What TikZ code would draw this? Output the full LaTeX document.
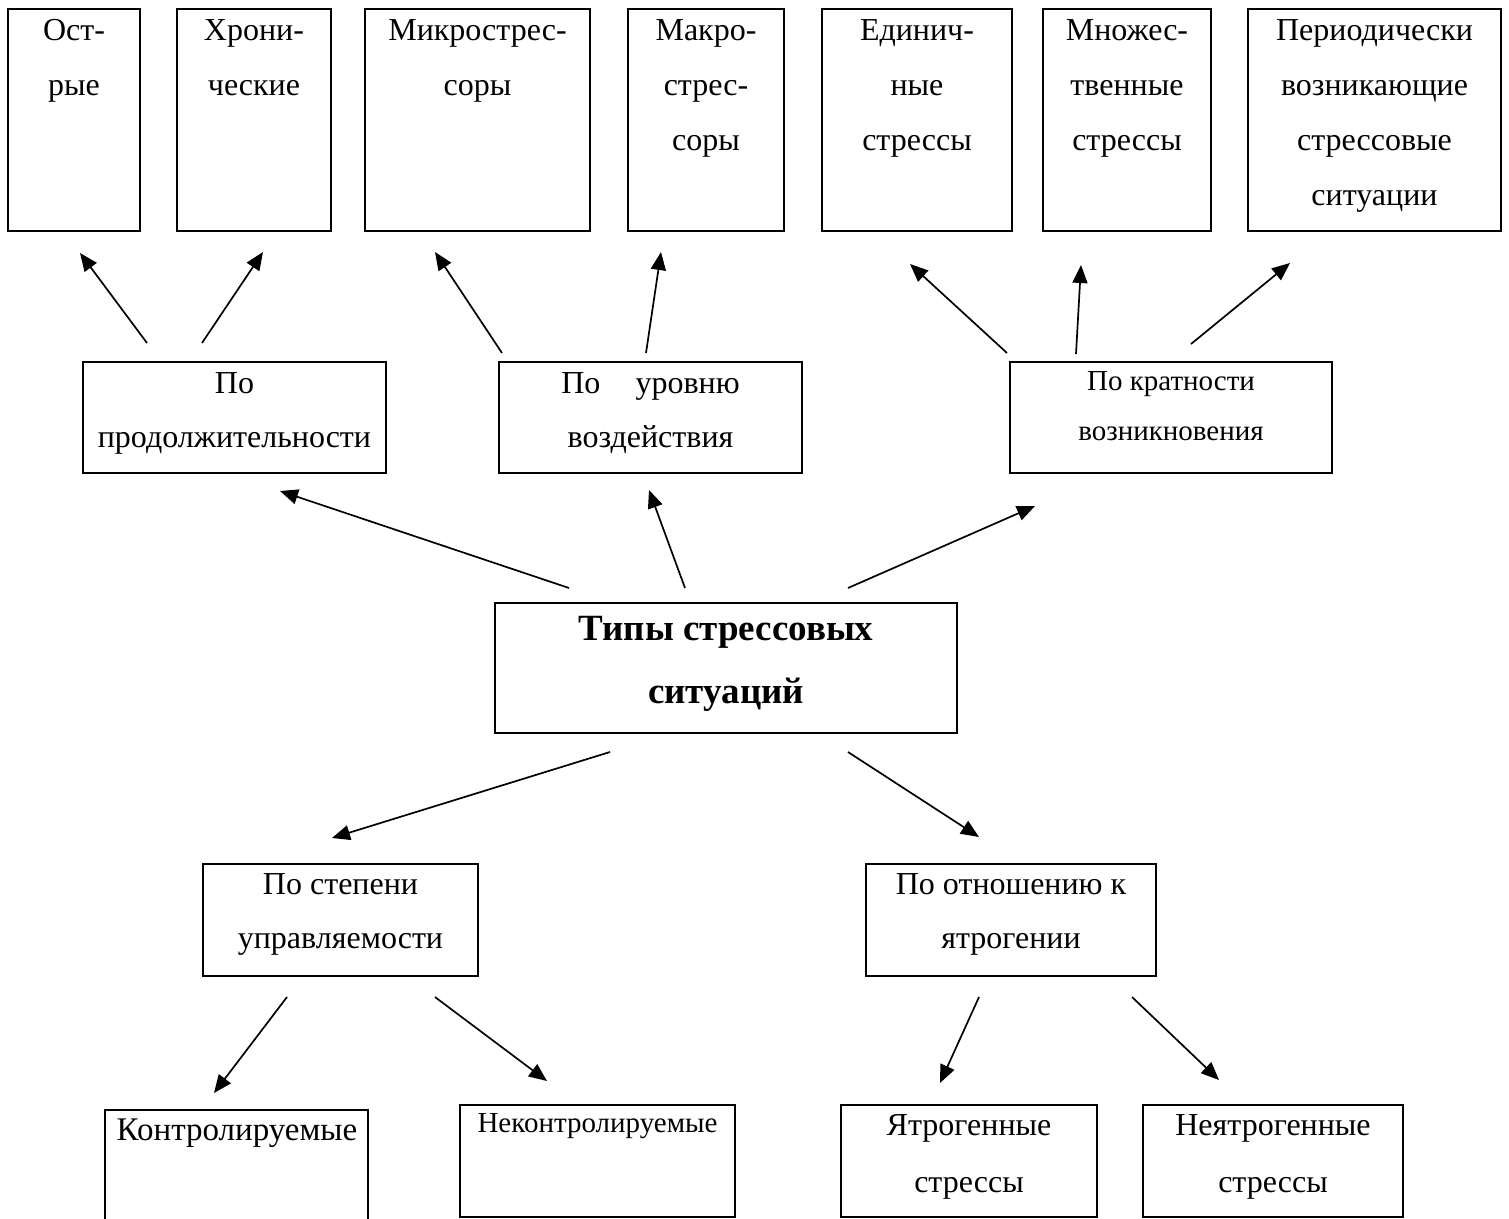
\documentclass[tikz,border=0pt]{standalone}
\usepackage{fontspec}
\setmainfont{Liberation Serif}
\usetikzlibrary{arrows.meta}
\begin{document}
\begin{tikzpicture}[x=1pt,y=-1pt,
  box/.style={draw,line width=2pt,inner sep=0pt,outer sep=0pt},
  lbl/.style={align=center,inner sep=0pt,font=\fontsize{32}{55}\selectfont},
  lblm/.style={align=center,inner sep=0pt,font=\fontsize{32}{54}\selectfont},
  lbls/.style={align=center,inner sep=0pt,font=\fontsize{29}{50}\selectfont},
  lblt/.style={align=center,inner sep=0pt,font=\fontsize{37}{63}\selectfont\bfseries},
  lble/.style={align=center,inner sep=0pt,font=\fontsize{32}{57}\selectfont},
  arr/.style={line width=1.7pt,-{Triangle[length=18pt,width=15pt]}}]
\useasboundingbox (0,0) rectangle (1509,1218);
% top row
\node[box,minimum width=132pt,minimum height=222pt] (a1) at (74,120) {};
\node[box,minimum width=154pt,minimum height=222pt] (a2) at (254,120) {};
\node[box,minimum width=225pt,minimum height=222pt] (a3) at (477.5,120) {};
\node[box,minimum width=156pt,minimum height=222pt] (a4) at (706,120) {};
\node[box,minimum width=190pt,minimum height=222pt] (a5) at (917,120) {};
\node[box,minimum width=168pt,minimum height=222pt] (a6) at (1127,120) {};
\node[box,minimum width=253pt,minimum height=222pt] (a7) at (1374.5,120) {};
\node[lbl,anchor=base] (a1t) at (74,95) {Ост-\\рые};
\node[lbl,anchor=base] (a2t) at (254,95) {Хрони-\\ческие};
\node[lbl,anchor=base] (a3t) at (477.5,95) {Микрострес-\\соры};
\node[lbl,anchor=base] (a4t) at (706,150) {Макро-\\стрес-\\соры};
\node[lbl,anchor=base] (a5t) at (917,150) {Единич-\\ные\\стрессы};
\node[lbl,anchor=base] (a6t) at (1127,150) {Множес-\\твенные\\стрессы};
\node[lbl,anchor=base] (a7t) at (1374.5,205) {Периодически\\возникающие\\стрессовые\\ситуации};
% middle row
\node[box,minimum width=303pt,minimum height=111pt] (b1) at (234.5,417.5) {};
\node[box,minimum width=303pt,minimum height=111pt] (b2) at (650.5,417.5) {};
\node[box,minimum width=322pt,minimum height=111pt] (b3) at (1171,417.5) {};
\node[lblm,anchor=base] (b1t) at (234.5,447) {По\\продолжительности};
\node[lblm,anchor=base] (b2t) at (650.5,447) {По\hspace{1.1em}уровню\\воздействия};
\node[lbls,anchor=base] (b3t) at (1171,440) {По кратности\\возникновения};
% centre
\node[box,minimum width=462pt,minimum height=130pt] (c) at (726,668) {};
\node[lblt,anchor=base] (ct) at (726,703) {Типы стрессовых\\ситуаций};
% lower row
\node[box,minimum width=275pt,minimum height=112pt] (d1) at (340.5,920) {};
\node[box,minimum width=290pt,minimum height=112pt] (d2) at (1011,920) {};
\node[lblm,anchor=base] (d1t) at (340.5,948) {По степени\\управляемости};
\node[lblm,anchor=base] (d2t) at (1011,948) {По отношению к\\ятрогении};
% bottom row
\node[box,minimum width=263pt,minimum height=130pt] (e1) at (236.5,1175) {};
\node[box,minimum width=275pt,minimum height=112pt] (e2) at (597.5,1161) {};
\node[box,minimum width=256pt,minimum height=112pt] (e3) at (969,1161) {};
\node[box,minimum width=260pt,minimum height=112pt] (e4) at (1273,1161) {};
\node[lble,anchor=base,font=\fontsize{33}{57}\selectfont] (e1t) at (237,1140) {Контролируемые};
\node[lbls,anchor=base] (e2t) at (597.5,1132) {Неконтролируемые};
\node[lble,anchor=base] (e3t) at (969,1192) {Ятрогенные\\стрессы};
\node[lble,anchor=base] (e4t) at (1273,1192) {Неятрогенные\\стрессы};
% connector ends
\coordinate (s11) at (147,343); \coordinate (t11) at (80,253);
\coordinate (s12) at (202,343); \coordinate (t12) at (263,252);
\coordinate (s23) at (502,353); \coordinate (t23) at (435,252);
\coordinate (s24) at (646,353); \coordinate (t24) at (661,252);
\coordinate (s35) at (1007,353); \coordinate (t35) at (910,264);
\coordinate (s36) at (1076,354); \coordinate (t36) at (1081,265);
\coordinate (s37) at (1191,344); \coordinate (t37) at (1290,263);
\coordinate (sc1) at (569,588); \coordinate (tc1) at (280,491);
\coordinate (sc2) at (685,588); \coordinate (tc2) at (649,490);
\coordinate (sc3) at (848,588); \coordinate (tc3) at (1035,506);
\coordinate (scd1) at (610,752); \coordinate (tcd1) at (332,838);
\coordinate (scd2) at (848,752); \coordinate (tcd2) at (979,837);
\coordinate (sd11) at (287,997); \coordinate (td11) at (214,1093);
\coordinate (sd12) at (435,997); \coordinate (td12) at (547,1081);
\coordinate (sd23) at (979,997); \coordinate (td23) at (940,1083);
\coordinate (sd24) at (1132,997); \coordinate (td24) at (1219,1080);
\foreach \s/\t in {s11/t11,s12/t12,s23/t23,s24/t24,s35/t35,s36/t36,s37/t37,
  sc1/tc1,sc2/tc2,sc3/tc3,scd1/tcd1,scd2/tcd2,sd11/td11,sd12/td12,sd23/td23,sd24/td24}
  \draw[arr] (\s) -- (\t);
\end{tikzpicture}
\end{document}
